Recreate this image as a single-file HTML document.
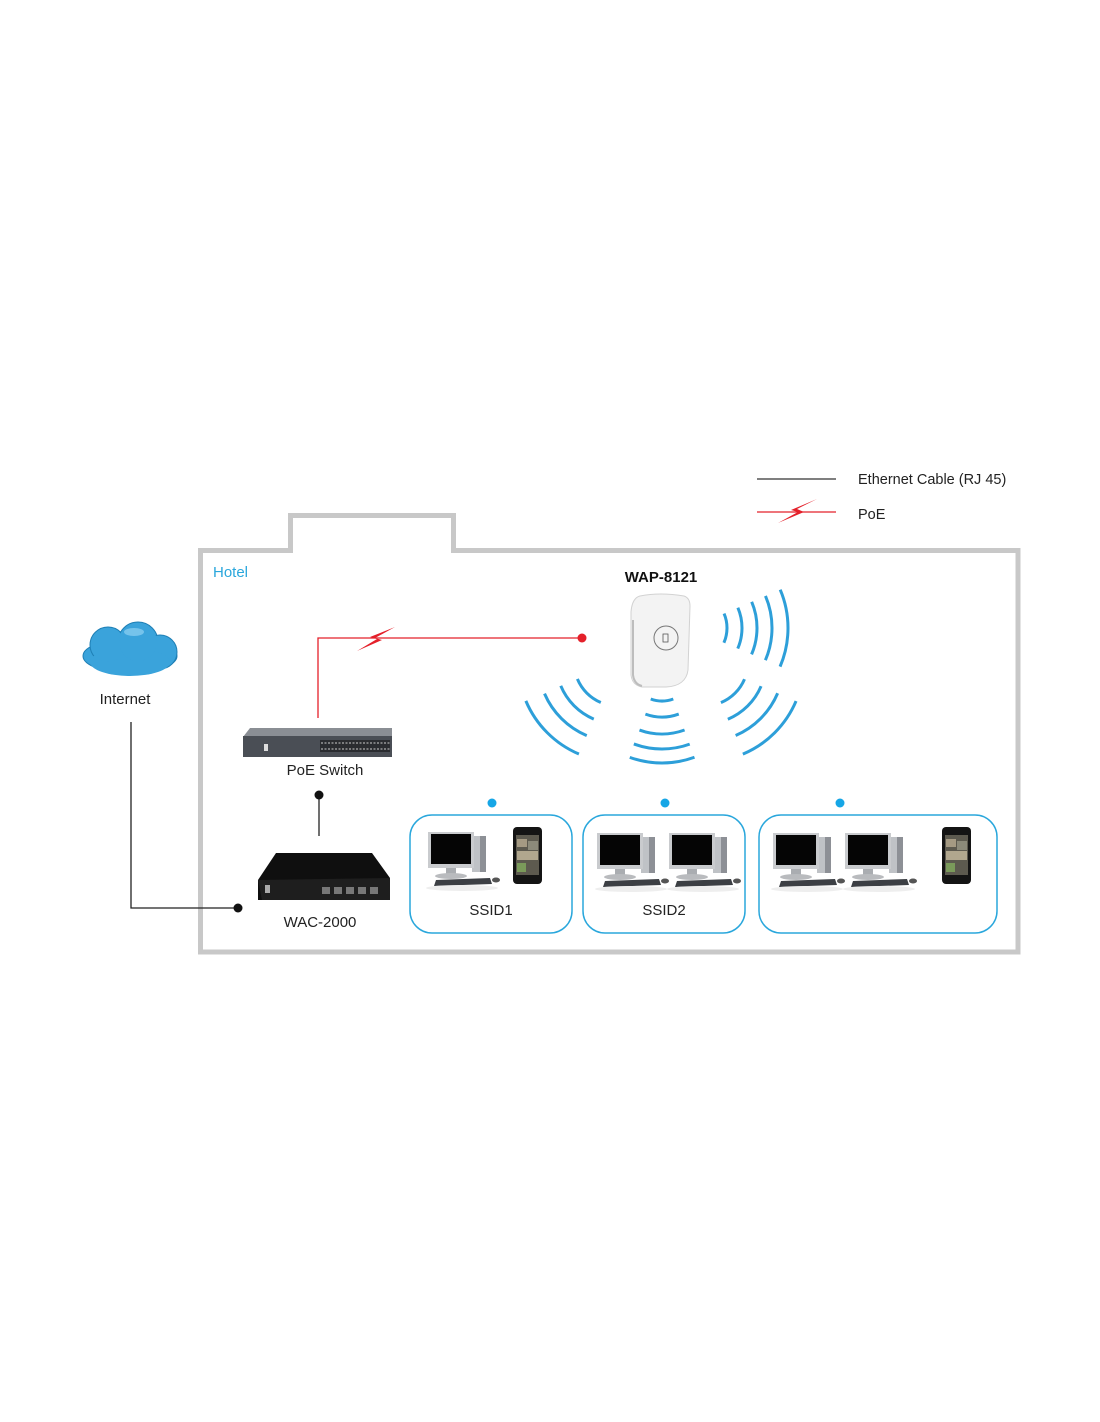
<!DOCTYPE html>
<html><head><meta charset="utf-8"><style>
html,body{margin:0;padding:0;background:#fff;}
svg{display:block;}
text{font-family:"Liberation Sans",sans-serif;}
</style></head><body>
<svg width="1100" height="1422" viewBox="0 0 1100 1422" xmlns="http://www.w3.org/2000/svg">
<defs>
<g id="pc">
 <rect x="44" y="6" width="14" height="36" fill="#bfc2c6"/>
 <rect x="52" y="6" width="6" height="36" fill="#8d9096"/>
 <rect x="0" y="2" width="46" height="36" fill="#c9cbce"/>
 <rect x="3" y="4" width="40" height="30" fill="#050505"/>
 <rect x="18" y="38" width="10" height="6" fill="#aaadb1"/>
 <ellipse cx="23" cy="46" rx="16" ry="3" fill="#b9bbbe"/>
 <polygon points="8,50 62,48 64,54 6,56" fill="#3c3f44"/>
 <ellipse cx="68" cy="50" rx="4" ry="2.5" fill="#555"/>
 <ellipse cx="34" cy="58" rx="36" ry="3" fill="#eee"/>
</g>
<g id="phone">
 <rect x="0" y="0" width="29" height="57" rx="4" fill="#141414"/>
 <rect x="3" y="8" width="23" height="40" fill="#5d5a4f"/>
 <rect x="4" y="12" width="10" height="8" fill="#a59a83"/>
 <rect x="15" y="14" width="10" height="9" fill="#8c8a7a"/>
 <rect x="4" y="24" width="21" height="9" fill="#b1a78e"/>
 <rect x="4" y="36" width="9" height="9" fill="#7a9a5a"/>
</g>
</defs>

<path d="M200.5,952 L200.5,550.5 L290.5,550.5 L290.5,515.5 L453.5,515.5 L453.5,550.5 L1018,550.5 L1018,952 Z" fill="none" stroke="#c8c8c8" stroke-width="5"/>
<text x="213" y="577" font-size="15" fill="#2aa7dc">Hotel</text>

<line x1="757" y1="479" x2="836" y2="479" stroke="#333" stroke-width="1.3"/>
<text x="858" y="484" font-size="14.5" fill="#222">Ethernet Cable (RJ 45)</text>
<line x1="757" y1="512" x2="836" y2="512" stroke="#e4202a" stroke-width="1.3"/>
<path d="M778,523 L798,512 L791,510 L817,499 L797,509 L804,512 Z" fill="#e4202a"/>
<text x="858" y="519" font-size="14.5" fill="#222">PoE</text>

<g fill="#3aa3db" stroke="#1e7fb5" stroke-width="1">
 <ellipse cx="130" cy="656" rx="47" ry="17"/>
 <circle cx="108" cy="645" r="18"/>
 <circle cx="138" cy="642" r="20"/>
 <circle cx="160" cy="652" r="17"/>
 <ellipse cx="130" cy="662" rx="40" ry="14" stroke="none"/>
 <circle cx="108" cy="645" r="17" stroke="none"/>
 <circle cx="138" cy="642" r="19" stroke="none"/>
</g>
<ellipse cx="134" cy="632" rx="10" ry="4" fill="#8fd0f2" opacity="0.7"/>
<text x="125" y="704" font-size="15" fill="#222" text-anchor="middle">Internet</text>
<polyline points="131,722 131,908 238,908" fill="none" stroke="#222" stroke-width="1.3"/>
<circle cx="238" cy="908" r="4.5" fill="#111"/>

<polyline points="318,718 318,638 582,638" fill="none" stroke="#e4202a" stroke-width="1.3"/>
<circle cx="582" cy="638" r="4.5" fill="#e4202a"/>
<path d="M357,651 L377,639 L370,637 L395,627 L375,638 L382,640 Z" fill="#e4202a"/>

<polygon points="243,737 250,728 392,728 392,737" fill="#8a8e94"/>
<rect x="243" y="736" width="149" height="21" fill="#4a4e55"/>
<rect x="320" y="740" width="70" height="12" fill="#2a2c30"/>
<g stroke="#ccc" stroke-width="1" stroke-dasharray="2 1.5"><line x1="321" y1="743" x2="390" y2="743"/><line x1="321" y1="749" x2="390" y2="749"/></g>
<rect x="264" y="744" width="4" height="7" fill="#ddd"/>
<text x="325" y="775" font-size="15" fill="#222" text-anchor="middle">PoE Switch</text>
<line x1="319" y1="795" x2="319" y2="836" stroke="#222" stroke-width="1.3"/>
<circle cx="319" cy="795" r="4.5" fill="#111"/>

<polygon points="258,880 276,853 372,853 390,878 390,900 258,900" fill="#0f0f0f"/>
<polygon points="258,880 390,878 390,900 262,900" fill="#1e1e1e"/>
<g fill="#777"><rect x="322" y="887" width="8" height="7"/><rect x="334" y="887" width="8" height="7"/><rect x="346" y="887" width="8" height="7"/><rect x="358" y="887" width="8" height="7"/><rect x="370" y="887" width="8" height="7"/></g>
<rect x="265" y="885" width="5" height="8" fill="#aaa"/>
<text x="320" y="927" font-size="15" fill="#222" text-anchor="middle">WAC-2000</text>

<text x="661" y="582" font-size="15" font-weight="bold" fill="#111" text-anchor="middle">WAP-8121</text>
<path d="M640,596 Q660,592 684,596 Q690,598 690,606 L688,670 Q686,686 666,687 L642,687 Q632,685 631,675 L631,612 Q632,598 640,596 Z" fill="#f3f3f3" stroke="#d2d2d2" stroke-width="1"/>
<path d="M633,620 L633,675 Q634,684 642,686" fill="none" stroke="#bdbdbd" stroke-width="2"/>
<circle cx="666" cy="638" r="12" fill="none" stroke="#777" stroke-width="1"/>
<rect x="663" y="634" width="5" height="8" fill="none" stroke="#555" stroke-width="0.8"/>

<g fill="none" stroke="#2d9fd9" stroke-width="3" stroke-linecap="butt">
 <g transform="translate(690,628) rotate(-23)">
  <circle r="37" stroke-dasharray="30 1000"/>
  <circle r="52" stroke-dasharray="42 1000"/>
  <circle r="67" stroke-dasharray="54 1000"/>
  <circle r="82" stroke-dasharray="66 1000"/>
  <circle r="98" stroke-dasharray="79 1000"/>
 </g>
 <g transform="translate(662,668) rotate(70)">
  <circle r="33" stroke-dasharray="23 1000"/>
  <circle r="49" stroke-dasharray="34 1000"/>
  <circle r="66" stroke-dasharray="46 1000"/>
  <circle r="81" stroke-dasharray="57 1000"/>
  <circle r="95" stroke-dasharray="66 1000"/>
 </g>
 <g transform="translate(618,662) rotate(113)">
  <circle r="44" stroke-dasharray="34 1000"/>
  <circle r="62" stroke-dasharray="48 1000"/>
  <circle r="80" stroke-dasharray="61 1000"/>
  <circle r="100" stroke-dasharray="77 1000"/>
 </g>
 <g transform="translate(704,662) rotate(23)">
  <circle r="44" stroke-dasharray="34 1000"/>
  <circle r="62" stroke-dasharray="48 1000"/>
  <circle r="80" stroke-dasharray="61 1000"/>
  <circle r="100" stroke-dasharray="77 1000"/>
 </g>
</g>

<g fill="none" stroke="#2aa7dc" stroke-width="1.5">
 <rect x="410" y="815" width="162" height="118" rx="22"/>
 <rect x="583" y="815" width="162" height="118" rx="22"/>
 <rect x="759" y="815" width="238" height="118" rx="22"/>
</g>
<g fill="#16a6e6">
 <circle cx="492" cy="803" r="4.5"/>
 <circle cx="665" cy="803" r="4.5"/>
 <circle cx="840" cy="803" r="4.5"/>
</g>
<use href="#pc" x="428" y="830"/>
<use href="#phone" x="513" y="827"/>
<use href="#pc" x="597" y="831"/>
<use href="#pc" x="669" y="831"/>
<use href="#pc" x="773" y="831"/>
<use href="#pc" x="845" y="831"/>
<use href="#phone" x="942" y="827"/>
<text x="491" y="915" font-size="15" fill="#222" text-anchor="middle">SSID1</text>
<text x="664" y="915" font-size="15" fill="#222" text-anchor="middle">SSID2</text>
</svg>
</body></html>
